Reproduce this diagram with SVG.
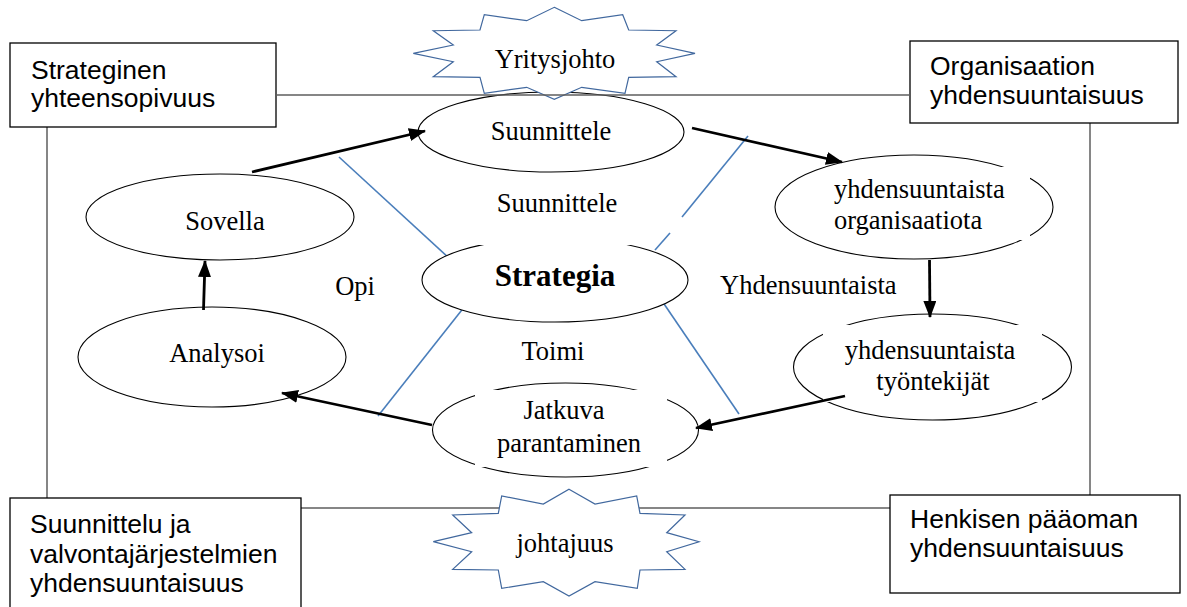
<svg xmlns="http://www.w3.org/2000/svg" width="1187" height="607" viewBox="0 0 1187 607">
<style>
.box{fill:#fff;stroke:#000;stroke-width:1.3}
.frame{fill:none;stroke:#5e5e5e;stroke-width:1.5}
.ell{fill:#fff;stroke:#000;stroke-width:1.1}
.mask{fill:#fff;stroke:none}
.star{fill:#fff;stroke:#41689e;stroke-width:1.2;stroke-linejoin:miter}
.blue{stroke:#4a7ebb;stroke-width:1.6;fill:none}
.arr{stroke:#000;stroke-width:2.8;fill:none;marker-end:url(#ah)}
.sans{font-family:"Liberation Sans",Arial,sans-serif;font-size:26.5px;fill:#000}
.serif{font-family:"Liberation Serif","Times New Roman",serif;font-size:26.5px;fill:#000}
.mid{text-anchor:middle}
</style>
<defs>
<marker id="ah" markerUnits="userSpaceOnUse" markerWidth="18" markerHeight="14" refX="16" refY="6.5" orient="auto">
<path d="M0,0 L17,6.5 L0,13 z" fill="#000"/>
</marker>
</defs>
<rect width="1187" height="607" fill="#fff"/>

<g id="frame-lines">
<line class="frame" x1="47" y1="127" x2="47" y2="498"/>
<line class="frame" x1="1090" y1="123" x2="1090" y2="495"/>
<line class="frame" x1="301" y1="508" x2="890" y2="508"/>
</g>

<g id="blue-lines">
<line class="blue" x1="339" y1="157" x2="450" y2="259"/>
<line class="blue" x1="748" y1="136" x2="682" y2="217"/>
<line class="blue" x1="670" y1="233" x2="655" y2="250"/>
<line class="blue" x1="465" y1="306" x2="378" y2="416"/>
<line class="blue" x1="660" y1="298" x2="739" y2="414"/>
</g>

<g id="box-strateginen">
<rect class="box" x="10" y="43" width="266" height="84"/>
<text class="sans" x="31" y="79">Strateginen</text>
<text class="sans" x="31" y="107">yhteensopivuus</text>
</g>
<g id="box-organisaation">
<rect class="box" x="910" y="41" width="268" height="82"/>
<text class="sans" x="930" y="75">Organisaation</text>
<text class="sans" x="930" y="104">yhdensuuntaisuus</text>
</g>
<g id="box-suunnittelu">
<rect class="box" x="10" y="498" width="291" height="115"/>
<text class="sans" x="30" y="533">Suunnittelu ja</text>
<text class="sans" x="30" y="563">valvontajärjestelmien</text>
<text class="sans" x="30" y="592">yhdensuuntaisuus</text>
</g>
<g id="box-henkisen">
<rect class="box" x="890" y="495" width="290" height="98"/>
<text class="sans" x="910" y="528">Henkisen pääoman</text>
<text class="sans" x="910" y="557">yhdensuuntaisuus</text>
</g>

<g id="node-suunnittele">
<ellipse class="ell" cx="551" cy="132" rx="133" ry="40"/>
</g>
<g id="node-strategia">
<ellipse class="ell" cx="555" cy="280" rx="133" ry="42"/>
<rect class="mask" x="470" y="190" width="168" height="55"/>
</g>
<g id="node-organisaatiota">
<ellipse class="ell" cx="914" cy="207" rx="139" ry="52"/>
<rect class="mask" x="828" y="167" width="202" height="73"/>
</g>
<g id="node-tyontekijat">
<ellipse class="ell" cx="932.5" cy="367" rx="139" ry="53"/>
<rect class="mask" x="823" y="325" width="219" height="77"/>
</g>
<g id="node-jatkuva">
<ellipse class="ell" cx="565.5" cy="430" rx="133" ry="47"/>
<rect class="mask" x="475" y="390" width="192" height="77"/>
</g>
<g id="node-sovella">
<ellipse class="ell" cx="220" cy="217" rx="134" ry="43"/>
</g>
<g id="node-analysoi">
<ellipse class="ell" cx="212" cy="357" rx="134" ry="50"/>
</g>

<g id="node-yritysjohto">
<polygon class="star" points="554.3,7.3 581.7,20.7 622.7,14.7 628.7,30 676,30.7 656.7,45 695,53.3 656.7,61.7 676,76.7 628.7,77.3 625,93.3 581.7,87.3 554.3,99.3 526.7,87.3 484.3,93.3 480,77.3 433.3,76.7 453.3,61.7 413.3,53.3 453.3,45 433.3,30.7 480,30 484.3,14.7 526.7,20.7"/>
<text class="serif mid" x="555" y="68">Yritysjohto</text>
</g>
<g id="node-johtajuus">
<polygon class="star" points="569,489.3 595,504 636.7,496 640,513.3 685,515 666.7,532.7 699,541.7 666.7,551.7 685,569.3 640,570 637.3,588.3 595,581.7 569,596 543.3,581.7 501.7,588.3 498.3,570 452.7,569.3 471.7,551.7 433.3,541.7 471.7,532.7 452.7,515 498.3,513.3 501.7,496 543.3,504"/>
<text class="serif mid" x="565" y="552">johtajuus</text>
</g>

<g id="frame-top">
<line class="frame" x1="276" y1="95" x2="910" y2="95"/>
</g>

<g id="labels">
<text class="serif mid" x="551" y="140">Suunnittele</text>
<text class="serif mid" x="557" y="212">Suunnittele</text>
<text class="serif mid" x="555" y="286" style="font-weight:bold;font-size:31px">Strategia</text>
<text class="serif" x="834" y="198">yhdensuuntaista</text>
<text class="serif" x="834" y="229">organisaatiota</text>
<text class="serif mid" x="930" y="359">yhdensuuntaista</text>
<text class="serif mid" x="933" y="390">työntekijät</text>
<text class="serif mid" x="564" y="419">Jatkuva</text>
<text class="serif mid" x="569" y="452">parantaminen</text>
<text class="serif mid" x="225" y="230">Sovella</text>
<text class="serif mid" x="217" y="362">Analysoi</text>
<text class="serif mid" x="355" y="295">Opi</text>
<text class="serif mid" x="553" y="360">Toimi</text>
<text class="serif" x="720" y="294">Yhdensuuntaista</text>
</g>

<g id="connectors">
<line class="arr" x1="252" y1="172" x2="425" y2="131"/>
<line class="arr" x1="692" y1="128" x2="842" y2="162"/>
<line class="arr" x1="929.5" y1="260" x2="930" y2="317"/>
<line class="arr" x1="845" y1="396" x2="696" y2="428"/>
<line class="arr" x1="432" y1="425" x2="282" y2="393"/>
<line class="arr" x1="203.5" y1="310" x2="205" y2="261"/>
</g>
</svg>
